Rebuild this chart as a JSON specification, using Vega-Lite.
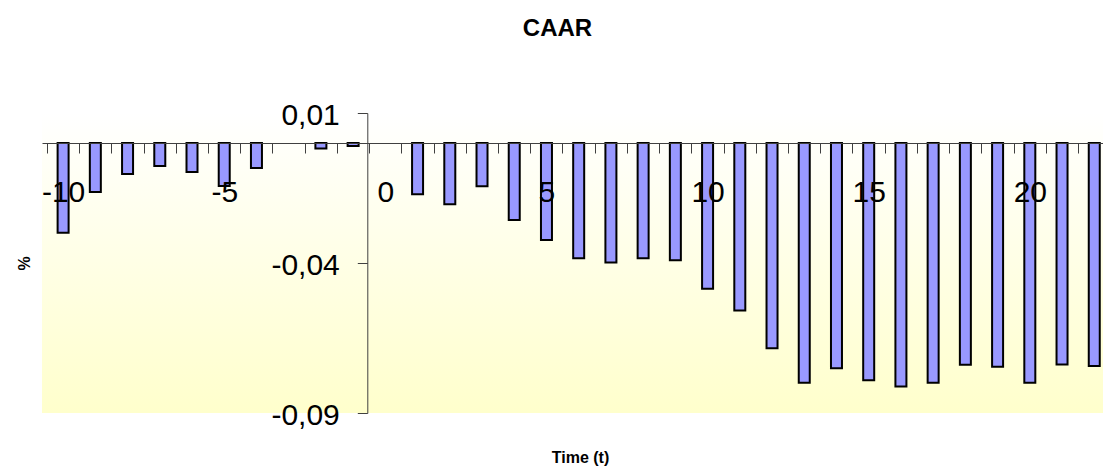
{
  "$schema": "https://vega.github.io/schema/vega-lite/v6.json",
  "width": 1061,
  "height": 300,
  "autosize": {"type": "none"},
  "padding": {"left": 42, "top": 113, "right": 0, "bottom": 58},
  "background": "white",
  "title": {
    "text": "CAAR",
    "font": "Liberation Sans",
    "fontSize": 24,
    "fontWeight": "bold",
    "color": "black",
    "anchor": "middle",
    "dx": -15,
    "dy": -55
  },
  "config": {"view": {"stroke": null}},
  "data": {
    "values": [
      {"t": -10, "caar": -0.0299},
      {"t": -9, "caar": -0.0163},
      {"t": -8, "caar": -0.0103},
      {"t": -7, "caar": -0.0077},
      {"t": -6, "caar": -0.0097},
      {"t": -5, "caar": -0.0143},
      {"t": -4, "caar": -0.0083},
      {"t": -2, "caar": -0.0018},
      {"t": -1, "caar": -0.0010},
      {"t": 1, "caar": -0.0171},
      {"t": 2, "caar": -0.0204},
      {"t": 3, "caar": -0.0144},
      {"t": 4, "caar": -0.0257},
      {"t": 5, "caar": -0.0323},
      {"t": 6, "caar": -0.0384},
      {"t": 7, "caar": -0.0398},
      {"t": 8, "caar": -0.0384},
      {"t": 9, "caar": -0.0391},
      {"t": 10, "caar": -0.0486},
      {"t": 11, "caar": -0.0558},
      {"t": 12, "caar": -0.0684},
      {"t": 13, "caar": -0.0799},
      {"t": 14, "caar": -0.0751},
      {"t": 15, "caar": -0.0791},
      {"t": 16, "caar": -0.0812},
      {"t": 17, "caar": -0.0799},
      {"t": 18, "caar": -0.0739},
      {"t": 19, "caar": -0.0746},
      {"t": 20, "caar": -0.0799},
      {"t": 21, "caar": -0.0738},
      {"t": 22, "caar": -0.0743}
    ]
  },
  "layer": [
    {
      "data": {"values": [{"top": 0.01, "bottom": -0.09}]},
      "mark": {
        "type": "rect",
        "color": {
          "gradient": "linear",
          "x1": 0, "y1": 0, "x2": 0, "y2": 1,
          "stops": [
            {"offset": 0, "color": "#FFFFFF"},
            {"offset": 1, "color": "#FFFFCC"}
          ]
        }
      },
      "encoding": {
        "y": {
          "field": "top",
          "type": "quantitative",
          "scale": {"domain": [-0.09, 0.01], "nice": false, "zero": false},
          "axis": {
            "orient": "left",
            "offset": -325.3,
            "values": [0.01, -0.04, -0.09],
            "tickSize": 10,
            "tickColor": "#404040",
            "domainColor": "#404040",
            "grid": false,
            "labelFont": "Liberation Sans",
            "labelFontSize": 30,
            "labelColor": "black",
            "labelPadding": 18,
            "labelOffset": 2,
            "labelOverlap": false,
            "labelFlush": false,
            "labelBound": false,
            "labelExpr": "(datum.value < 0 ? '-' : '') + replace(format(abs(datum.value), '.2f'), '.', ',')",
            "title": "%",
            "titleFont": "Liberation Sans",
            "titleFontSize": 16,
            "titleFontWeight": "bold",
            "titleColor": "black",
            "titleX": -343,
            "titleY": 150,
            "titleBaseline": "middle",
            "titleAlign": "center",
            "zindex": 1
          }
        },
        "y2": {"field": "bottom"}
      }
    },
    {
      "mark": {
        "type": "bar",
        "orient": "vertical",
        "width": 11,
        "fill": "#9999FF",
        "stroke": "black",
        "strokeWidth": 2,
        "clip": true
      },
      "encoding": {
        "x": {
          "field": "t",
          "type": "quantitative",
          "scale": {"domain": [-10.5, 22.116], "nice": false, "zero": false},
          "axis": {
            "orient": "bottom",
            "offset": -270,
            "values": [-10, -9, -8, -7, -6, -5, -4, -3, -2, -1, 0, 1, 2, 3, 4, 5, 6, 7, 8, 9, 10, 11, 12, 13, 14, 15, 16, 17, 18, 19, 20, 21, 22],
            "tickOffset": -16.265,
            "labelOffset": 16.265,
            "tickSize": 10,
            "tickColor": "#404040",
            "domainColor": "#404040",
            "grid": false,
            "labelFont": "Liberation Sans",
            "labelFontSize": 30,
            "labelColor": "black",
            "labelPadding": 24,
            "labelOverlap": false,
            "labelFlush": false,
            "labelBound": false,
            "labelExpr": "datum.value % 5 === 0 ? ((datum.value < 0 ? '-' : '') + abs(datum.value)) : ''",
            "title": "Time (t)",
            "titleFont": "Liberation Sans",
            "titleFontSize": 16,
            "titleFontWeight": "bold",
            "titleColor": "black",
            "titleX": 538,
            "titleY": 319,
            "titleBaseline": "alphabetic",
            "titleAlign": "center",
            "zindex": 1
          }
        },
        "y": {
          "field": "caar",
          "type": "quantitative",
          "scale": {"domain": [-0.09, 0.01], "nice": false, "zero": false},
          "axis": {
            "orient": "left",
            "offset": -325.3,
            "values": [0.01, -0.04, -0.09],
            "tickSize": 10,
            "tickColor": "#404040",
            "domainColor": "#404040",
            "grid": false,
            "labelFont": "Liberation Sans",
            "labelFontSize": 30,
            "labelColor": "black",
            "labelPadding": 18,
            "labelOffset": 2,
            "labelOverlap": false,
            "labelFlush": false,
            "labelBound": false,
            "labelExpr": "(datum.value < 0 ? '-' : '') + replace(format(abs(datum.value), '.2f'), '.', ',')",
            "title": "%",
            "titleFont": "Liberation Sans",
            "titleFontSize": 16,
            "titleFontWeight": "bold",
            "titleColor": "black",
            "titleX": -343,
            "titleY": 150,
            "titleBaseline": "middle",
            "titleAlign": "center",
            "zindex": 1
          }
        }
      }
    }
  ]
}
